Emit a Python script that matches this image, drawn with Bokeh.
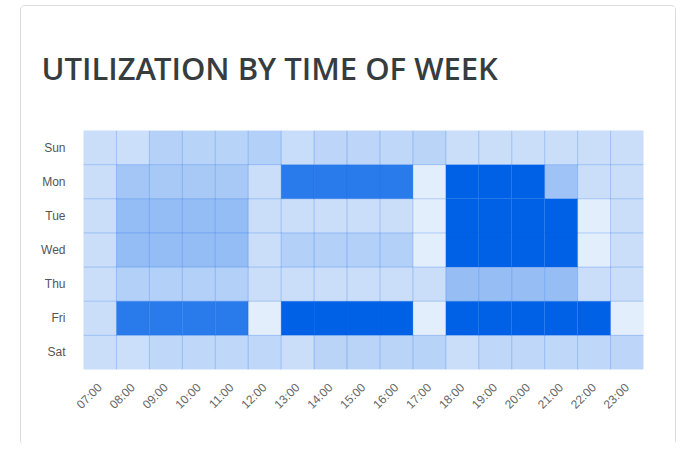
from bokeh.plotting import figure
from bokeh.models import ColumnDataSource, FactorRange
from bokeh.embed import file_html
from bokeh.resources import INLINE

days = ["Sun", "Mon", "Tue", "Wed", "Thu", "Fri", "Sat"]
hours = ["07:00", "08:00", "09:00", "10:00", "11:00", "12:00", "13:00", "14:00",
         "15:00", "16:00", "17:00", "18:00", "19:00", "20:00", "21:00", "22:00", "23:00"]
title_text = "UTILIZATION BY TIME OF WEEK"

# utilization (%) per day, hours 07:00 .. 23:00
sun = [11, 10, 20, 19, 19, 21, 12, 17, 17, 16, 18, 11, 11, 11, 11, 11, 11]
mon = [11, 28, 26, 26, 26, 11, 82, 82, 82, 82, 0, 100, 100, 100, 30, 11, 11]
tue = [11, 35, 35, 35, 35, 11, 11, 11, 11, 11, 0, 100, 100, 100, 100, 0, 11]
wed = [11, 35, 35, 35, 35, 11, 21, 21, 21, 21, 0, 100, 100, 100, 100, 0, 11]
thu = [11, 21, 21, 21, 21, 11, 11, 11, 11, 11, 11, 34, 34, 34, 34, 11, 11]
fri = [11, 82, 82, 82, 82, 0, 100, 100, 100, 100, 0, 100, 100, 100, 100, 100, 0]
sat = [11, 10, 16, 16, 16, 16, 11, 18, 18, 18, 19, 11, 16, 16, 16, 16, 17]

rows = [sun, mon, tue, wed, thu, fri, sat]
xs, ys, vals = [], [], []
for d, row in zip(days, rows):
    for h, v in zip(hours, row):
        xs.append(h)
        ys.append(d)
        vals.append(v)
alphas = [0.11 + 0.89 * v / 100.0 for v in vals]
src = ColumnDataSource(dict(x=xs, y=ys, v=vals, a=alphas))

BASE = "#0060E6"

p = figure(width=656, height=440, x_range=FactorRange(*hours, range_padding=0),
           y_range=FactorRange(*reversed(days), range_padding=0),
           output_backend="svg", toolbar_location=None, tools="",
           min_border_left=62, min_border_right=34, min_border_top=123, min_border_bottom=77,
           title=title_text)
p.styles = {"border": "1px solid #dcdcdc", "border-bottom": "none",
            "border-radius": "5px", "margin-left": "20px", "margin-top": "5px"}

p.rect(x="x", y="y", width=1, height=1, source=src, fill_color=BASE, fill_alpha="a",
       line_color=BASE, line_alpha=0.12, line_width=1)

p.title.text_font = "Open Sans SemiBold"
p.title.text_font_size = "31px"
p.title.text_font_style = "normal"
p.title.text_color = "#373d3f"
p.title.align = "left"
p.title.vertical_align = "top"
p.title.offset = -42
p.title.standoff = 80

p.outline_line_color = None
p.grid.grid_line_color = None
for ax in (p.xaxis[0], p.yaxis[0]):
    ax.axis_line_color = None
    ax.major_tick_line_color = None
    ax.minor_tick_line_color = None
    ax.major_label_text_font = "Liberation Sans"
    ax.major_label_text_font_size = "12px"
p.yaxis.major_label_text_color = "#555555"
p.xaxis.major_label_text_color = "#666666"
p.yaxis.major_label_standoff = 12
p.xaxis.major_label_standoff = 10
p.xaxis.major_label_orientation = 0.785

open("out.html", "w").write(file_html(p, INLINE))
